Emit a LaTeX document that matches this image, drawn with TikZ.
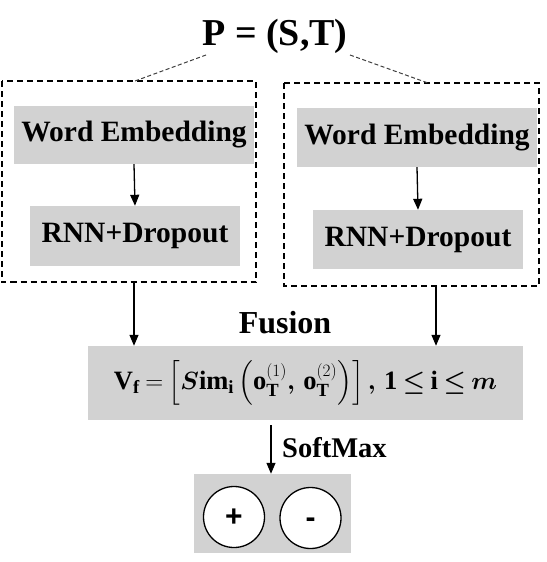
\documentclass[tikz,border=0pt]{standalone}
\usepackage{fontspec}
\usepackage{amsmath,bm}
\setmainfont{Liberation Serif}
\setsansfont{Liberation Sans}
\usetikzlibrary{arrows.meta,calc}
\definecolor{boxgray}{RGB}{210,210,210}
\tikzset{
  graybox/.style={fill=boxgray,draw=none,inner sep=0pt,font=\bfseries\fontsize{29.5}{32}\selectfont},
  groupbox/.style={draw=black,line width=2pt,dash pattern=on 6pt off 4pt},
  arr/.style={line width=1.3pt,-{Triangle[width=9pt,length=11pt]}},
  linkline/.style={draw=black!75,line width=1pt,dash pattern=on 4pt off 2.5pt},
  outcircle/.style={circle,draw=black,line width=1.3pt,fill=white,inner sep=0pt,text height=19pt,text depth=0pt,font=\sffamily\bfseries\fontsize{30}{32}\selectfont}
}
\begin{document}
\begin{tikzpicture}[x=1pt,y=-1pt]
\useasboundingbox[fill=white] (0,0) rectangle (546,562);
% title
\node[font=\bfseries\fontsize{38}{42}\selectfont,inner sep=0pt] (title) at (275,36) {P = (S,T)};
% group boxes
\draw[groupbox] (1.5,81) rectangle (256,282);
\node[minimum width=254.5pt,minimum height=201pt,inner sep=0pt] (boxL) at (128.75,181.5) {};
\draw[groupbox] (284,83) rectangle (539,286);
\node[minimum width=255pt,minimum height=203pt,inner sep=0pt] (boxR) at (411.5,184.5) {};
% inner boxes
\node[graybox,minimum width=240pt,minimum height=58pt] (weL) at (134,135) {Word Embedding};
\node[graybox,minimum width=210pt,minimum height=60pt] (rnnL) at (135,236) {RNN+Dropout};
\node[graybox,minimum width=240pt,minimum height=59pt] (weR) at (417,137.5) {Word Embedding};
\node[graybox,minimum width=210pt,minimum height=59pt] (rnnR) at (418,239.5) {RNN+Dropout};
% fusion
\node[font=\bfseries\fontsize{32}{34}\selectfont,inner sep=0pt,anchor=base] (fusion) at (285,333) {Fusion};
\node[fill=boxgray,minimum width=435pt,minimum height=74pt,inner sep=0pt,font=\fontsize{26.5}{30}\selectfont] (fbox) at (305.5,383)
  {\thickmuskip=4mu plus 2mu\medmuskip=3mu
   $\mathbf{V}_{\mathbf{f}} = \left[\bm{S}\mathbf{im}_{\mathbf{i}}\left(\mathbf{o}_{\mathbf{T}}^{(1)}\bm{,}\, \mathbf{o}_{\mathbf{T}}^{(2)}\right)\right]\bm{,}\,\mathbf{1} \bm{\le} \mathbf{i} \bm{\le} \bm{m}$};
% output
\node[fill=boxgray,minimum width=157pt,minimum height=79pt,inner sep=0pt] (outbox) at (272.5,513.5) {};
\node[outcircle,minimum size=61pt] (plus) at (234,517) {+};
\node[outcircle,minimum size=61pt] (minus) at (310.5,518) {-};
\node[font=\bfseries\fontsize{28.5}{32}\selectfont,anchor=west,inner sep=0pt] (softmax) at (282,448) {SoftMax};
% connectors
\coordinate (tL) at (206,55);
\coordinate (tR) at (350,55);
\coordinate (bL) at (135,81);
\coordinate (bR) at (428,83);
\draw[linkline] (tL) -- (bL);
\draw[linkline] (tR) -- (bR);
\draw[arr] (weL.south) -- (rnnL.north);
\draw[arr] (weR.south) -- (rnnR.north);
\coordinate (aL) at (134,0);
\coordinate (aR) at (436,0);
\draw[arr] (aL |- boxL.south) -- (aL |- fbox.north);
\draw[arr] (aR |- boxR.south) -- (aR |- fbox.north);
\coordinate (sTop) at (271,425);
\draw[arr] (sTop) -- (sTop |- outbox.north);
\end{tikzpicture}
\end{document}
